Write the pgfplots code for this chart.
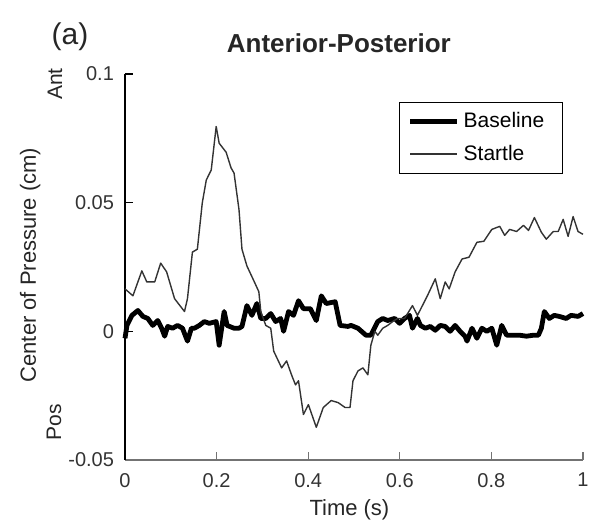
\documentclass[border=0pt]{standalone}
\usepackage{pgfplots}
\pgfplotsset{compat=1.18}
\usepackage{fontspec}
\setmainfont{Liberation Sans}
\begin{document}
\begin{tikzpicture}
\path[use as bounding box] (-62.5pt,-34.5pt) rectangle (232.5pt,230pt);
\begin{axis}[
  at={(0,0)}, anchor=south west,
  scale only axis, width=229pt, height=193pt,
  xmin=0, xmax=1, ymin=-0.05, ymax=0.1,
  axis x line*=bottom, axis y line*=left,
  x axis line style={black!55, line width=0.6pt},
  y axis line style={black, line width=0.7pt},
  tick align=inside,
  major tick length=4pt,
  xtick={0,0.2,0.4,0.6,0.8,1},
  xticklabels={0,0.2,0.4,0.6,0.8,1},
  ytick={-0.05,0,0.05,0.1},
  yticklabels={-0.05,0,0.05,0.1},
  x tick style={black!55, line width=0.6pt},
  y tick style={black, line width=0.7pt},
  tick label style={font=\fontsize{10}{12}\selectfont, text=black!80},
  xticklabel style={yshift=-3pt},
  yticklabel style={xshift=-2pt},
  xlabel={Time (s)},
  xlabel style={at={(axis description cs:0.49,-0.13)}, anchor=center, font=\fontsize{11}{13}\selectfont, text=black!85},
  ylabel={Center of Pressure (cm)},
  ylabel style={at={(axis description cs:-0.207,0.505)}, anchor=center, rotate=0, font=\fontsize{11}{13}\selectfont, text=black!85},
  clip=false,
  legend style={at={(0.956,0.927)}, anchor=north east, draw=black, line width=0.6pt,
    font=\fontsize{10.5}{12}\selectfont, inner xsep=4pt, inner ysep=3pt, row sep=3pt},
  legend cell align=left,
  legend image code/.code={\draw[#1] (0pt,0pt) -- (23.5pt,0pt);},
]
\addplot[black, line width=2.4pt, line join=round] coordinates {
(0,-0.0027) (0.0043,0.0023) (0.0152,0.0062) (0.0281,0.0081) (0.0390,0.0058)
(0.0498,0.005) (0.0606,0.0023) (0.0714,0.0042) (0.0801,0.0012) (0.0866,-0.0019)
(0.0931,0.0019) (0.1039,0.0012) (0.1147,0.0023) (0.1255,0.0012) (0.1364,-0.0038)
(0.1450,0.0012) (0.1515,0.0012) (0.1623,0.0023) (0.1732,0.0038) (0.1840,0.0031)
(0.1991,0.0038) (0.2056,-0.0054) (0.2165,0.0077) (0.2229,0.0023) (0.2381,0.0012)
(0.2489,0.0012) (0.2554,0.0019) (0.2662,0.01) (0.2771,0.0062) (0.2879,0.0108)
(0.2965,0.005) (0.3074,0.005) (0.3182,0.0069) (0.3290,0.0038) (0.3398,0.005)
(0.3463,0) (0.3571,0.0077) (0.3680,0.0062) (0.3788,0.0119) (0.3896,0.0088)
(0.4048,0.0088) (0.4177,0.0042) (0.4286,0.0138) (0.4394,0.0108) (0.4589,0.0115)
(0.4697,0.0023) (0.4870,0.0019) (0.4935,0.0023) (0.5087,0.0012) (0.5260,-0.0015)
(0.5368,-0.0015) (0.5519,0.0038) (0.5628,0.005) (0.5736,0.0042) (0.5887,0.005)
(0.5996,0.0031) (0.6104,0.005) (0.6212,0.0062) (0.6277,0.0012) (0.6385,0.005)
(0.6450,0.0023) (0.6558,0.0012) (0.6667,0.0019) (0.6775,0.0004) (0.6883,0.0023)
(0.6991,0.0019) (0.7100,0) (0.7208,0.0023) (0.7316,0) (0.7424,-0.0019)
(0.7468,-0.0038) (0.7576,0.0012) (0.7684,-0.0027) (0.7792,0.0012) (0.7900,0)
(0.8009,0.0012) (0.8117,-0.0054) (0.8225,0.0023) (0.8333,-0.0015) (0.8485,-0.0015)
(0.8615,-0.0015) (0.8766,-0.0019) (0.8918,-0.0015) (0.9026,-0.0015) (0.9091,0.0012)
(0.9156,0.0077) (0.9264,0.005) (0.9372,0.0062) (0.9481,0.0058) (0.9632,0.005)
(0.9740,0.0062) (0.9892,0.0058) (1.0,0.0069)
};
\addlegendentry{Baseline\hspace*{3pt}\mbox{}}
\addplot[black!80, line width=0.7pt, line join=round] coordinates {
(0,0.0165) (0.0173,0.0138) (0.0368,0.0235) (0.0476,0.0192) (0.0649,0.0192)
(0.0779,0.0265) (0.0909,0.0231) (0.1082,0.0127) (0.1299,0.0077) (0.1364,0.0127)
(0.1472,0.0308) (0.1580,0.0319) (0.1688,0.05) (0.1775,0.0588) (0.1883,0.0627)
(0.1991,0.0796) (0.2056,0.0731) (0.2208,0.0696) (0.2316,0.0635) (0.2381,0.0615)
(0.2489,0.0473) (0.2554,0.0319) (0.2662,0.0254) (0.2814,0.0196) (0.2922,0.0154)
(0.2965,0.0077) (0.3074,0.0023) (0.3182,0.0012) (0.3247,-0.0077) (0.3420,-0.0142)
(0.3528,-0.0115) (0.3636,-0.0169) (0.3723,-0.0208) (0.3788,-0.0192) (0.3896,-0.0323)
(0.4004,-0.0285) (0.4177,-0.0373) (0.4329,-0.0296) (0.4502,-0.0269) (0.4654,-0.0277)
(0.4805,-0.0296) (0.4913,-0.0296) (0.4978,-0.0192) (0.5087,-0.0154) (0.5195,-0.0142)
(0.5303,-0.0169) (0.5368,-0.0054) (0.5455,0) (0.5519,-0.0015) (0.5628,0.0012)
(0.5736,0.0023) (0.5844,0.0038) (0.5952,0.005) (0.6104,0.005) (0.6277,0.01)
(0.6385,0.0062) (0.6494,0.01) (0.6602,0.0138) (0.6775,0.0204) (0.6883,0.0127)
(0.6991,0.0192) (0.7078,0.0165) (0.7208,0.0231) (0.7359,0.0281) (0.7511,0.0288)
(0.7684,0.0346) (0.7835,0.035) (0.8009,0.0396) (0.8182,0.0408) (0.8290,0.0373)
(0.8398,0.0396) (0.8550,0.0388) (0.8701,0.0412) (0.8810,0.0392) (0.8939,0.0442)
(0.9091,0.0385) (0.9199,0.0358) (0.9351,0.0388) (0.9459,0.0388) (0.9567,0.0435)
(0.9675,0.0369) (0.9784,0.0446) (0.9892,0.0388) (1.0,0.0377)
};
\addlegendentry{Startle}
\node[font=\bfseries\fontsize{13}{15}\selectfont, text=black!85] at (axis description cs:0.467,1.080) {Anterior-Posterior};
\node[font=\fontsize{15}{18}\selectfont, text=black!85] at (axis description cs:-0.120,1.096) {(a)};
\node[rotate=90, font=\fontsize{10.5}{12}\selectfont, text=black!85] at (axis description cs:-0.153,0.974) {Ant};
\node[rotate=90, font=\fontsize{10.5}{12}\selectfont, text=black!85] at (axis description cs:-0.155,0.098) {Pos};
\end{axis}
\end{tikzpicture}
\end{document}
